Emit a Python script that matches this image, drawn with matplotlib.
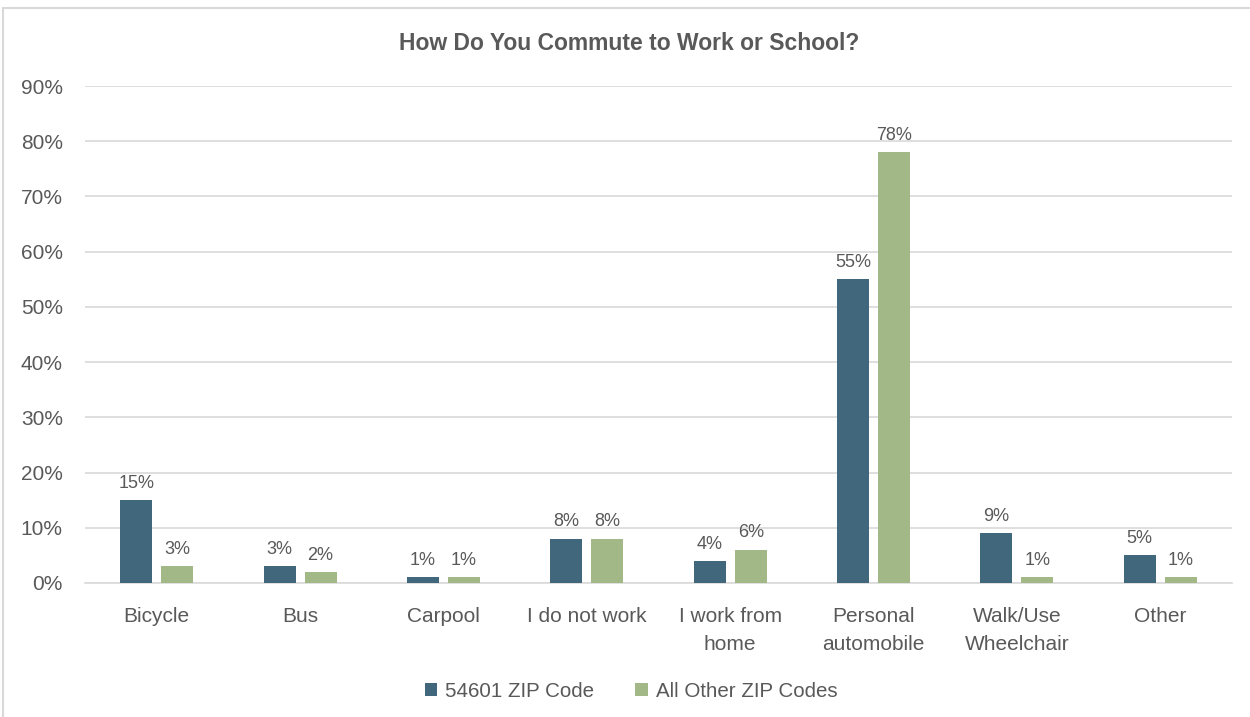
import matplotlib.pyplot as plt
import numpy as np
from matplotlib.patches import Rectangle

categories = ["Bicycle", "Bus", "Carpool", "I do not work", "I work from\nhome",
              "Personal\nautomobile", "Walk/Use\nWheelchair", "Other"]
zip_54601 = [15, 3, 1, 8, 4, 55, 9, 5]
other_zips = [3, 2, 1, 8, 6, 78, 1, 1]
series_names = ["54601 ZIP Code", "All Other ZIP Codes"]
yticks = [0, 10, 20, 30, 40, 50, 60, 70, 80, 90]

dark = "#40677C"
green = "#A3B887"
text_c = "#595959"
grid_c = "#D9D9D9"

plt.rcParams["font.family"] = ["Liberation Sans", "DejaVu Sans"]

fig = plt.figure(figsize=(12.5, 7.17), dpi=100)
ax = fig.add_axes([0.068, 0.187, 0.9176, 0.693])

# chart border
fig.patches.append(Rectangle((3 / 1250, -0.01), 1.1, (717 - 8) / 717 + 0.01,
                             transform=fig.transFigure, fill=False,
                             edgecolor="#D9D9D9", linewidth=1.5))

x = np.arange(len(categories))
w = 0.223
gap = 0.063
b1 = ax.bar(x - (w + gap) / 2, zip_54601, w, color=dark, label=series_names[0], zorder=3)
b2 = ax.bar(x + (w + gap) / 2, other_zips, w, color=green, label=series_names[1], zorder=3)

for bars, vals in ((b1, zip_54601), (b2, other_zips)):
    for bar, v in zip(bars, vals):
        ax.annotate(f"{v}%", (bar.get_x() + bar.get_width() / 2, v),
                    xytext=(0, 6), textcoords="offset points",
                    ha="center", va="bottom", fontsize=13, color=text_c)

ax.set_xlim(-0.5, len(categories) - 0.5)
ax.set_ylim(0, 90)
ax.set_yticks(yticks)
ax.set_yticklabels([f"{t}%" for t in yticks])
ax.set_xticks(x)
ax.set_xticklabels(categories, linespacing=1.6)
ax.tick_params(axis="both", length=0, labelsize=15, colors=text_c)
ax.tick_params(axis="y", pad=16)
ax.tick_params(axis="x", pad=17)

ax.yaxis.grid(True, color=grid_c, linewidth=1.2, zorder=0)
for s in ("top", "right", "left"):
    ax.spines[s].set_visible(False)
ax.spines["bottom"].set_color(grid_c)
ax.spines["bottom"].set_linewidth(1.2)

fig.text(0.503, 0.939, "How Do You Commute to Work or School?", ha="center", va="center",
         fontsize=16.5, fontweight="bold", color=text_c)

fig.legend(handles=[b1, b2], labels=series_names, loc="center", bbox_to_anchor=(0.505, 0.036),
           ncol=2, frameon=False, fontsize=14.8, labelcolor=text_c,
           handlelength=0.6, handleheight=0.6, handletextpad=0.4, columnspacing=2.0)

fig.savefig("out.png", dpi=100)
